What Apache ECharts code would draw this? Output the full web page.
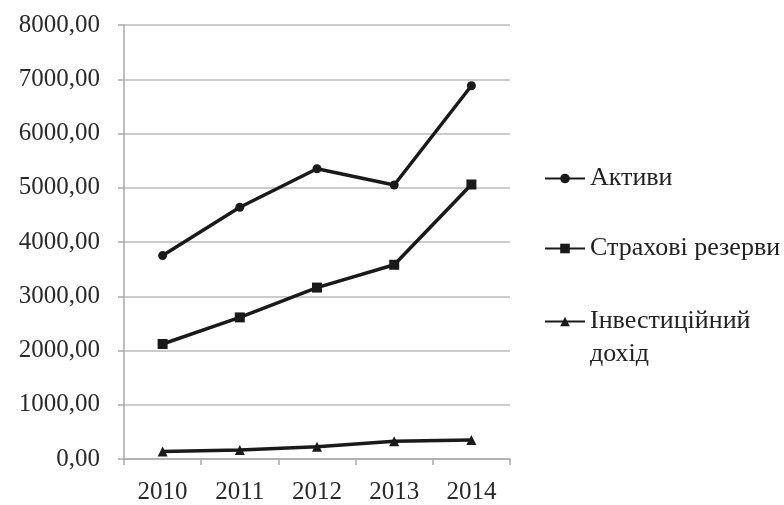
<!DOCTYPE html>
<html>
<head>
<meta charset="utf-8">
<script src="https://cdn.jsdelivr.net/npm/echarts@6/dist/echarts.min.js"></script>
<style>
  html, body { margin: 0; padding: 0; background: #fff; }
  #main { width: 784px; height: 505px; }
</style>
</head>
<body>
<div id="main"></div>
<script>
var years = ["2010", "2011", "2012", "2013", "2014"];
var aktyvy = [3750, 4640, 5350, 5050, 6880];
var rezervy = [2120, 2610, 3160, 3580, 5060];
var dokhid = [140, 165, 225, 325, 350];
var yTicks = { min: 0, max: 8000, interval: 1000 };

var fontFam = "'Liberation Serif', 'DejaVu Serif', serif";
var myChart = echarts.init(document.getElementById("main"));

function legendAt(name, top) {
  return {
    data: [name],
    orient: "vertical",
    left: 539,
    top: top,
    itemWidth: 40,
    itemHeight: 12,
    itemGap: 4,
    formatter: function (n) {
      // перенос рядка як у оригіналі, значок на рівні першого рядка
      if (n === "Інвестиційний дохід") return "{h| }\nІнвестиційний\nдохід";
      return n;
    },
    textStyle: {
      fontFamily: fontFam, fontSize: 26, color: "#222", lineHeight: 33,
      rich: { h: { height: 33, lineHeight: 33 } }
    }
  };
}

myChart.setOption({
  animation: false,
  grid: { left: 124, right: 274, top: 25, bottom: 44 },
  legend: [
    legendAt("Активи", 157),
    legendAt("Страхові резерви", 227),
    legendAt("Інвестиційний дохід", 267)
  ],
  xAxis: {
    type: "category",
    data: years,
    boundaryGap: true,
    axisLine: { lineStyle: { color: "#aaa", width: 1.5 } },
    axisTick: { show: true, length: 6, lineStyle: { color: "#aaa", width: 1.5 } },
    axisLabel: { fontFamily: fontFam, fontSize: 25, color: "#2a2a2a", margin: 21 }
  },
  yAxis: {
    type: "value",
    min: yTicks.min,
    max: yTicks.max,
    interval: yTicks.interval,
    axisLine: { show: true, lineStyle: { color: "#aaa", width: 1.5 } },
    axisTick: { show: true, length: 6, lineStyle: { color: "#aaa", width: 1.5 } },
    splitLine: { lineStyle: { color: "#bbb", width: 1.5 } },
    axisLabel: {
      fontFamily: fontFam, fontSize: 25, color: "#2a2a2a", margin: 24,
      formatter: function (v) { return v.toFixed(2).replace(".", ","); }
    }
  },
  series: [
    {
      name: "Активи", type: "line", data: aktyvy,
      symbol: "circle", symbolSize: 9,
      lineStyle: { color: "#1a1a1a", width: 3.5 },
      itemStyle: { color: "#1a1a1a" }
    },
    {
      name: "Страхові резерви", type: "line", data: rezervy,
      symbol: "rect", symbolSize: 10,
      lineStyle: { color: "#1a1a1a", width: 3.5 },
      itemStyle: { color: "#1a1a1a" }
    },
    {
      name: "Інвестиційний дохід", type: "line", data: dokhid,
      symbol: "triangle", symbolSize: 10,
      lineStyle: { color: "#1a1a1a", width: 3.5 },
      itemStyle: { color: "#1a1a1a" }
    }
  ]
});
</script>
</body>
</html>
